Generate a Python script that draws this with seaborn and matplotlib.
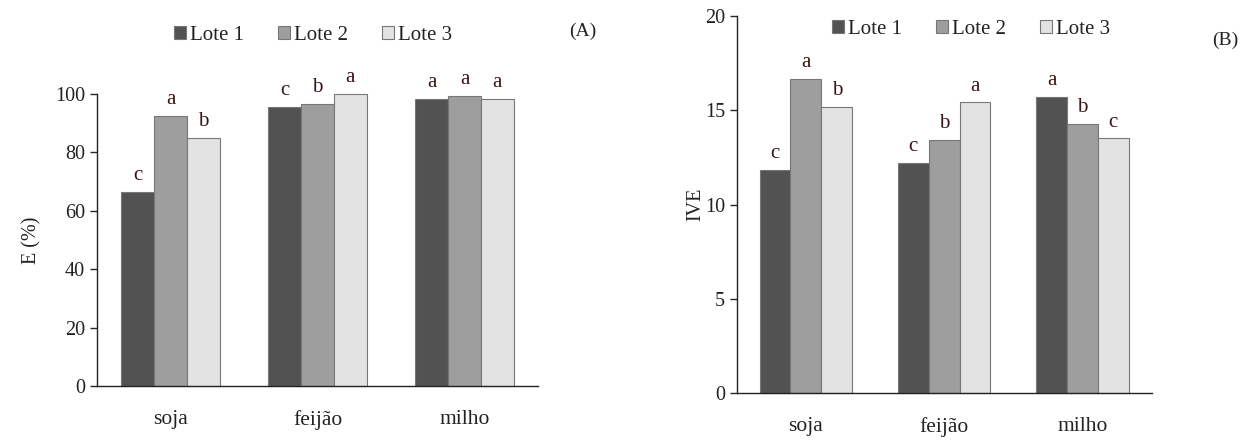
import pandas as pd
import numpy as np
import matplotlib
matplotlib.use('Agg')
import matplotlib.pyplot as plt
import seaborn as sns

culturas = ['soja', 'feijão', 'milho']
lotes = ['Lote 1', 'Lote 2', 'Lote 3']

# E (%) por lote
e_lote1 = [66.5, 95.4, 98.4]
e_lote2 = [92.6, 96.6, 99.4]
e_lote3 = [84.9, 100.0, 98.4]
e_letras = [['c', 'c', 'a'], ['a', 'b', 'a'], ['b', 'a', 'a']]

# IVE por lote
ive_lote1 = [11.83, 12.19, 15.72]
ive_lote2 = [16.66, 13.42, 14.27]
ive_lote3 = [15.19, 15.42, 13.51]
ive_letras = [['c', 'c', 'a'], ['a', 'b', 'b'], ['b', 'a', 'c']]

sns.set_style('white')
plt.rcParams['font.family'] = ['Liberation Serif', 'DejaVu Serif']
plt.rcParams['font.size'] = 14

cores = ['#525252', '#9e9e9e', '#e3e3e3']
texto = '#222222'


def long_df(v1, v2, v3):
    rows = []
    for lote, vals in zip(lotes, [v1, v2, v3]):
        for c, v in zip(culturas, vals):
            rows.append({'cultura': c, 'lote': lote, 'valor': v})
    return pd.DataFrame(rows)


def painel(ax, df, letras, ylim, yticks, ylabel):
    sns.barplot(data=df, x='cultura', y='valor', hue='lote', order=culturas,
                hue_order=lotes, palette=cores, width=0.67, ax=ax,
                edgecolor='#777777', linewidth=0.8, saturation=1, legend=True)
    for cont, lab in zip(ax.containers, letras):
        ax.bar_label(cont, labels=lab, padding=5, fontsize=15, color='#3a1414')
    for p in ax.patches:
        p.set_clip_on(False)
    ax.set_xlim(-0.5, 2.5)
    ax.set_ylim(*ylim)
    ax.set_yticks(yticks)
    ax.set_xticks([0, 1, 2])
    ax.set_xticklabels(culturas, fontsize=15.5, color=texto)
    ax.set_xticks([-0.5, 0.5, 1.5, 2.5], minor=True)
    ax.tick_params(axis='x', which='major', length=0, pad=17)
    ax.tick_params(axis='x', which='minor', length=6, direction='out', width=1)
    ax.tick_params(axis='y', length=5, direction='out', width=1, labelsize=14.5,
                   labelcolor=texto, left=True)
    ax.set_xlabel('')
    ax.set_ylabel(ylabel, fontsize=14.5, color=texto)
    sns.despine(ax=ax)
    for s in ['left', 'bottom']:
        ax.spines[s].set_color('#222222')
        ax.spines[s].set_linewidth(1)


fig = plt.figure(figsize=(12.53, 4.46), dpi=100)
axA = fig.add_axes([0.0774, 0.1345, 0.352, 0.655])
axB = fig.add_axes([0.588, 0.118, 0.331, 0.846])

painel(axA, long_df(e_lote1, e_lote2, e_lote3), e_letras, (0, 100),
       [0, 20, 40, 60, 80, 100], 'E (%)')
painel(axB, long_df(ive_lote1, ive_lote2, ive_lote3), ive_letras, (0, 20),
       [0, 5, 10, 15, 20], 'IVE')

axA.yaxis.set_label_coords(-0.125, 0.5)
axB.yaxis.set_label_coords(-0.075, 0.5)

legA = axA.legend(loc='center', bbox_to_anchor=(0.49, 1.2), ncol=3, frameon=False,
                  fontsize=15, handlelength=0.6, handleheight=0.6,
                  handletextpad=0.2, columnspacing=1.6)
legB = axB.legend(loc='center', bbox_to_anchor=(0.565, 0.965), ncol=3, frameon=False,
                  fontsize=15, handlelength=0.6, handleheight=0.6,
                  handletextpad=0.2, columnspacing=1.6)
for leg in [legA, legB]:
    for t in leg.get_texts():
        t.set_color(texto)

fig.text(0.465, 0.93, '(A)', fontsize=14, color=texto, ha='center', va='center')
fig.text(0.978, 0.91, '(B)', fontsize=14, color=texto, ha='center', va='center')

fig.savefig('out.png', dpi=100)
